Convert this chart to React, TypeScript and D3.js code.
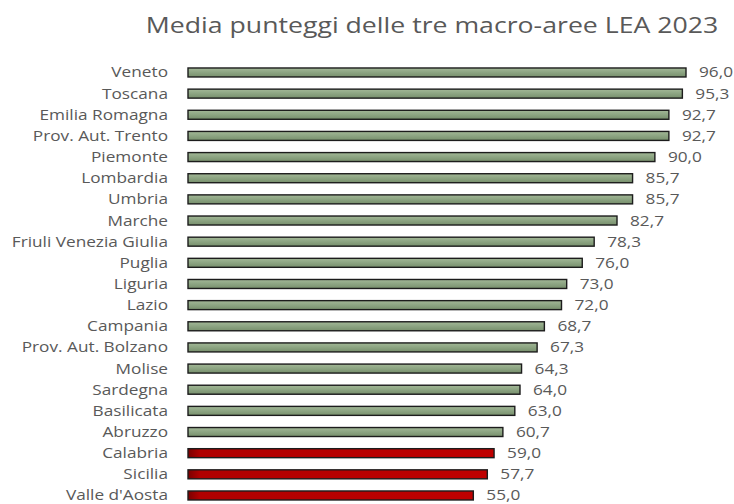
import React from "react";
import * as d3 from "d3";

const regions = [
  "Veneto", "Toscana", "Emilia Romagna", "Prov. Aut. Trento", "Piemonte",
  "Lombardia", "Umbria", "Marche", "Friuli Venezia Giulia", "Puglia",
  "Liguria", "Lazio", "Campania", "Prov. Aut. Bolzano", "Molise",
  "Sardegna", "Basilicata", "Abruzzo", "Calabria", "Sicilia", "Valle d'Aosta",
];
const scores = [
  96.0, 95.3, 92.7, 92.7, 90.0, 85.7, 85.7, 82.7, 78.3, 76.0, 73.0, 72.0,
  68.7, 67.3, 64.3, 64.0, 63.0, 60.7, 59.0, 57.7, 55.0,
];
const belowThreshold = ["Calabria", "Sicilia", "Valle d'Aosta"];
const title = "Media punteggi delle tre macro-aree LEA 2023";

const W = 734;
const H = 504;
const SX = 1.18; // horizontal stretch of the reference text
const FONT = "'Open Sans', sans-serif";
const TEXT = "#595959";

export default function App() {
  const x = d3.scaleLinear().domain([0, 96]).range([188, 686]);
  const y = d3
    .scaleBand<string>()
    .domain(regions)
    .range([61.9, 61.9 + 21 * 21.15])
    .paddingInner(0.575)
    .paddingOuter(0.2875);
  const fmt = (v: number) => d3.format(".1f")(v).replace(".", ",");

  return (
    <svg
      width={W}
      height={H}
      style={{ position: "absolute", left: 0, top: 0, background: "#fff" }}
    >
      <defs>
        <linearGradient id="gGreen" x1="0" y1="0" x2="0" y2="1">
          <stop offset="0" stopColor="#a3b897" />
          <stop offset="0.45" stopColor="#8ea684" />
          <stop offset="1" stopColor="#778f6c" />
        </linearGradient>
        <linearGradient id="gRed" x1="0" y1="0" x2="1" y2="0">
          <stop offset="0" stopColor="#7a0000" />
          <stop offset="0.04" stopColor="#b00000" />
          <stop offset="1" stopColor="#bf0000" />
        </linearGradient>
      </defs>
      <text
        transform={`translate(432,33) scale(${SX},1)`}
        textAnchor="middle"
        fontFamily={FONT}
        fontSize={22.6}
        fill={TEXT}
      >
        {title}
      </text>
      {regions.map((r, i) => {
        const yy = y(r)!;
        const cy = yy + y.bandwidth() / 2;
        const v = scores[i];
        const red = belowThreshold.includes(r);
        return (
          <g key={r}>
            <rect
              x={x(0)}
              y={yy}
              width={x(v) - x(0)}
              height={y.bandwidth()}
              fill={red ? "url(#gRed)" : "url(#gGreen)"}
              stroke="#1c1c1c"
              strokeWidth={1.4}
            />
            <text
              transform={`translate(168,${cy + 5}) scale(${SX},1)`}
              textAnchor="end"
              fontFamily={FONT}
              fontSize={14.6}
              fill={TEXT}
            >
              {r}
            </text>
            <text
              transform={`translate(${x(v) + 13},${cy + 5}) scale(${SX},1)`}
              textAnchor="start"
              fontFamily={FONT}
              fontSize={14.6}
              fill={TEXT}
            >
              {fmt(v)}
            </text>
          </g>
        );
      })}
    </svg>
  );
}
